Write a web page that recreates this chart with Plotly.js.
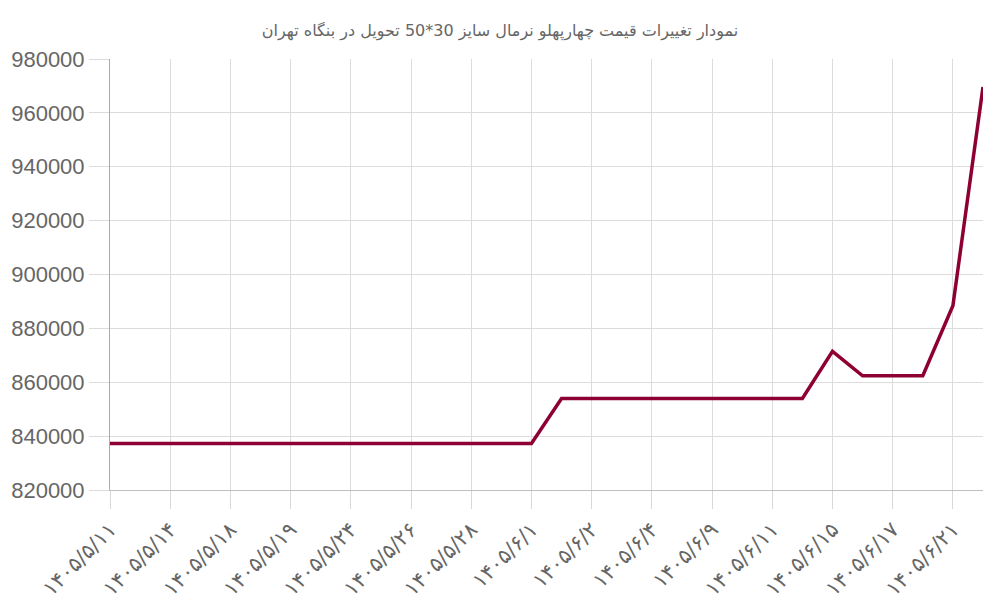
<!DOCTYPE html>
<html>
<head>
<meta charset="utf-8">
<script src="https://cdn.plot.ly/plotly-3.0.1.min.js"></script>
<style>html,body{margin:0;padding:0;background:#fff}#chart{width:1000px;height:600px}</style>
</head>
<body>
<div id="chart"></div>
<script>
const chartTitle = "نمودار تغییرات قیمت چهارپهلو نرمال سایز 30*50 تحویل در بنگاه تهران";
const tickLabels = ["۱۴۰۵/۵/۱۱","۱۴۰۵/۵/۱۴","۱۴۰۵/۵/۱۸","۱۴۰۵/۵/۱۹","۱۴۰۵/۵/۲۴","۱۴۰۵/۵/۲۶","۱۴۰۵/۵/۲۸","۱۴۰۵/۶/۱","۱۴۰۵/۶/۲","۱۴۰۵/۶/۴","۱۴۰۵/۶/۹","۱۴۰۵/۶/۱۱","۱۴۰۵/۶/۱۵","۱۴۰۵/۶/۱۷","۱۴۰۵/۶/۲۱"];
const prices = [837300,837300,837300,837300,837300,837300,837300,837300,837300,837300,837300,837300,837300,837300,837300,
                854000,854000,854000,854000,854000,854000,854000,854000,854000,
                871500,862400,862400,862400,888400,969600];
const pointIndex = prices.map((_, i) => i);
const tickPositions = tickLabels.map((_, i) => i * 2);

const trace = {
  x: pointIndex, y: prices, type: 'scatter', mode: 'lines',
  line: {color: '#8e0034', width: 3.5},
  hoverinfo: 'y'
};
const layout = {
  width: 1000, height: 600,
  margin: {l: 110, r: 17, t: 59, b: 110},
  paper_bgcolor: '#fff', plot_bgcolor: '#fff',
  showlegend: false,
  title: {text: chartTitle, x: 0.5, xanchor: 'center', y: 0.95, yanchor: 'middle',
          font: {family: 'DejaVu Sans', size: 16, color: '#666'}},
  xaxis: {
    range: [0, 29], tickmode: 'array', tickvals: tickPositions, ticktext: tickLabels,
    tickangle: -45, ticks: 'outside', ticklen: 18, tickcolor: '#d8d8d8',
    showgrid: true, gridcolor: '#dcdcdc', gridwidth: 1,
    showline: true, linecolor: '#c0c0c0', zeroline: false,
    tickfont: {family: 'DejaVu Sans', size: 21, color: '#666'}
  },
  yaxis: {
    range: [820000, 980000], dtick: 20000, tick0: 820000, tickformat: 'd',
    ticks: 'outside', ticklen: 20, tickcolor: '#dcdcdc',
    showgrid: true, gridcolor: '#dcdcdc', gridwidth: 1,
    showline: true, linecolor: '#aaa', zeroline: false,
    tickfont: {family: 'Liberation Sans, Arial', size: 22, color: '#666'}
  }
};
Plotly.newPlot('chart', [trace], layout, {displayModeBar: false, staticPlot: true});
</script>
</body>
</html>
